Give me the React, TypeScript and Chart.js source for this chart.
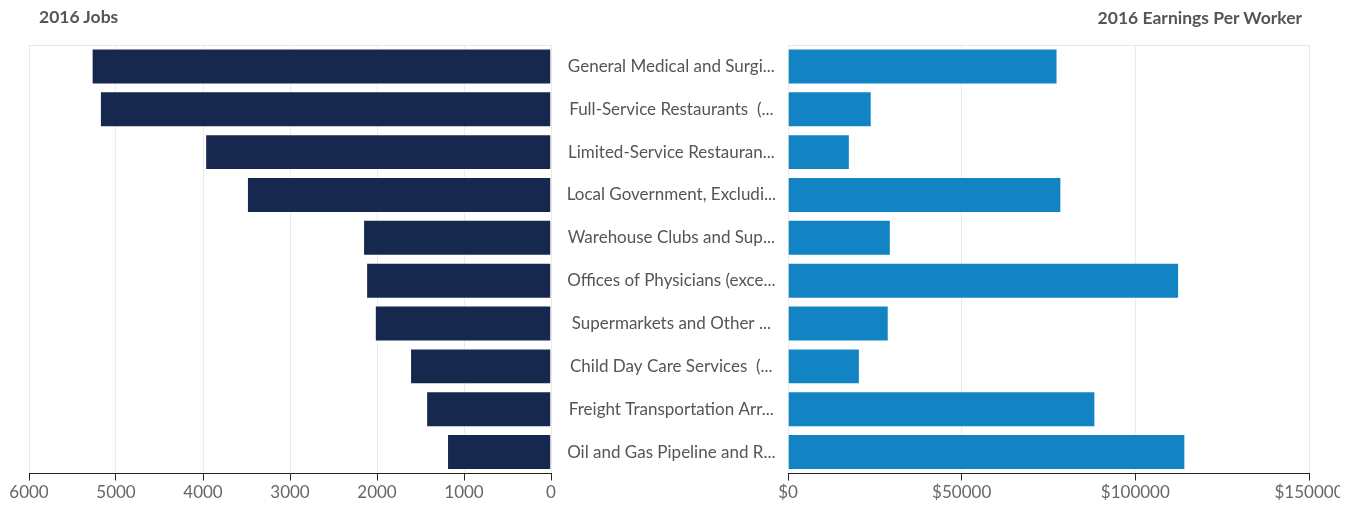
import React, { useEffect, useRef } from "react";
import { Chart, registerables } from "chart.js";

Chart.register(...registerables);

const categories = [
  "General Medical and Surgi...",
  "Full-Service Restaurants  (...",
  "Limited-Service Restauran...",
  "Local Government, Excludi...",
  "Warehouse Clubs and Sup...",
  "Offices of Physicians (exce...",
  "Supermarkets and Other ...",
  "Child Day Care Services  (...",
  "Freight Transportation Arr...",
  "Oil and Gas Pipeline and R...",
];

const jobs2016 = [5280, 5185, 3975, 3495, 2160, 2125, 2025, 1620, 1435, 1195];
const earnings2016 = [77600, 24100, 17800, 78700, 29600, 112600, 29000, 20700, 88500, 114400];

const jobsTicks = [0, 1000, 2000, 3000, 4000, 5000, 6000];
const earningsTicks = [0, 50000, 100000, 150000];

const FONT = "Lato, 'Noto Sans', sans-serif";

const topBorder = {
  id: "topBorder",
  afterDraw(chart: any) {
    const { ctx, chartArea } = chart;
    ctx.save();
    ctx.strokeStyle = "#e6e6e6";
    ctx.lineWidth = 1;
    ctx.beginPath();
    ctx.moveTo(chartArea.left, Math.round(chartArea.top) + 0.5);
    ctx.lineTo(chartArea.right, Math.round(chartArea.top) + 0.5);
    ctx.stroke();
    ctx.restore();
  },
};

export default function App() {
  const leftRef = useRef<HTMLCanvasElement>(null);
  const rightRef = useRef<HTMLCanvasElement>(null);

  useEffect(() => {
    const xCommon = (min: number, max: number, vals: number[], prefix: string) => ({
      type: "linear" as const,
      min,
      max,
      afterBuildTicks: (scale: any) => {
        scale.ticks = vals.map((v) => ({ value: v }));
      },
      ticks: {
        color: "#666",
        font: { family: FONT, size: 17, lineHeight: 1 },
        padding: 4,
        maxRotation: 0,
        callback: (v: any) => prefix + String(v),
      },
      grid: {
        color: "#ebebeb",
        tickColor: "#222",
        tickLength: 7,
      },
      border: { display: true, color: "#222", width: 1 },
    });

    const left = new Chart(leftRef.current!, {
      type: "bar",
      data: {
        labels: categories,
        datasets: [
          {
            data: jobs2016,
            backgroundColor: "#16284d",
            borderColor: "rgba(255,255,255,0.55)",
            borderWidth: 1,
            barPercentage: 0.84,
            categoryPercentage: 1,
          },
        ],
      },
      options: {
        indexAxis: "y",
        animation: false,
        responsive: false,
        layout: { padding: { left: 29, right: 9, top: 45, bottom: 0.5 } },
        plugins: { legend: { display: false }, tooltip: { enabled: false } },
        scales: {
          x: { ...xCommon(0, 6000, jobsTicks, ""), reverse: true },
          y: { display: false },
        },
      },
      plugins: [topBorder],
    });

    const right = new Chart(rightRef.current!, {
      type: "bar",
      data: {
        labels: categories,
        datasets: [
          {
            data: earnings2016,
            backgroundColor: "#1384c3",
            borderColor: "rgba(255,255,255,0.55)",
            borderWidth: 1,
            barPercentage: 0.84,
            categoryPercentage: 1,
          },
        ],
      },
      options: {
        indexAxis: "y",
        animation: false,
        responsive: false,
        layout: { padding: { left: 0, right: 50, top: 45, bottom: 0.5 } },
        plugins: { legend: { display: false }, tooltip: { enabled: false } },
        scales: {
          x: xCommon(0, 150000, earningsTicks, "$"),
          y: {
            afterFit: (scale: any) => {
              scale.width = 237;
            },
            grid: { display: false, drawTicks: false },
            border: { display: false },
            ticks: {
              crossAlign: "center",
              padding: 12,
              color: "#555",
              font: { family: FONT, size: 17 },
            },
          },
        },
      },
      plugins: [topBorder],
    });

    return () => {
      left.destroy();
      right.destroy();
    };
  }, []);

  return (
    <div
      style={{
        position: "absolute",
        left: 0,
        top: 0,
        width: 1359,
        height: 506,
        background: "#fff",
        overflow: "hidden",
        fontFamily: FONT,
      }}
    >
      <canvas
        ref={leftRef}
        width={560}
        height={506}
        style={{ position: "absolute", left: 0, top: 0 }}
      />
      <div
        style={{
          position: "absolute",
          left: 551,
          top: 0,
          width: 789,
          height: 506,
          overflow: "hidden",
        }}
      >
        <canvas
          ref={rightRef}
          width={808}
          height={506}
          style={{ position: "absolute", left: 0, top: 0 }}
        />
      </div>
      <div
        style={{
          position: "absolute",
          left: 39,
          top: 6,
          fontSize: 17.5,
          fontWeight: 700,
          color: "#555",
          lineHeight: "22px",
        }}
      >
        2016 Jobs
      </div>
      <div
        style={{
          position: "absolute",
          right: 1359 - 1302,
          top: 7,
          fontSize: 17.5,
          fontWeight: 700,
          color: "#555",
          lineHeight: "22px",
          whiteSpace: "nowrap",
        }}
      >
        2016 Earnings Per Worker
      </div>
    </div>
  );
}
